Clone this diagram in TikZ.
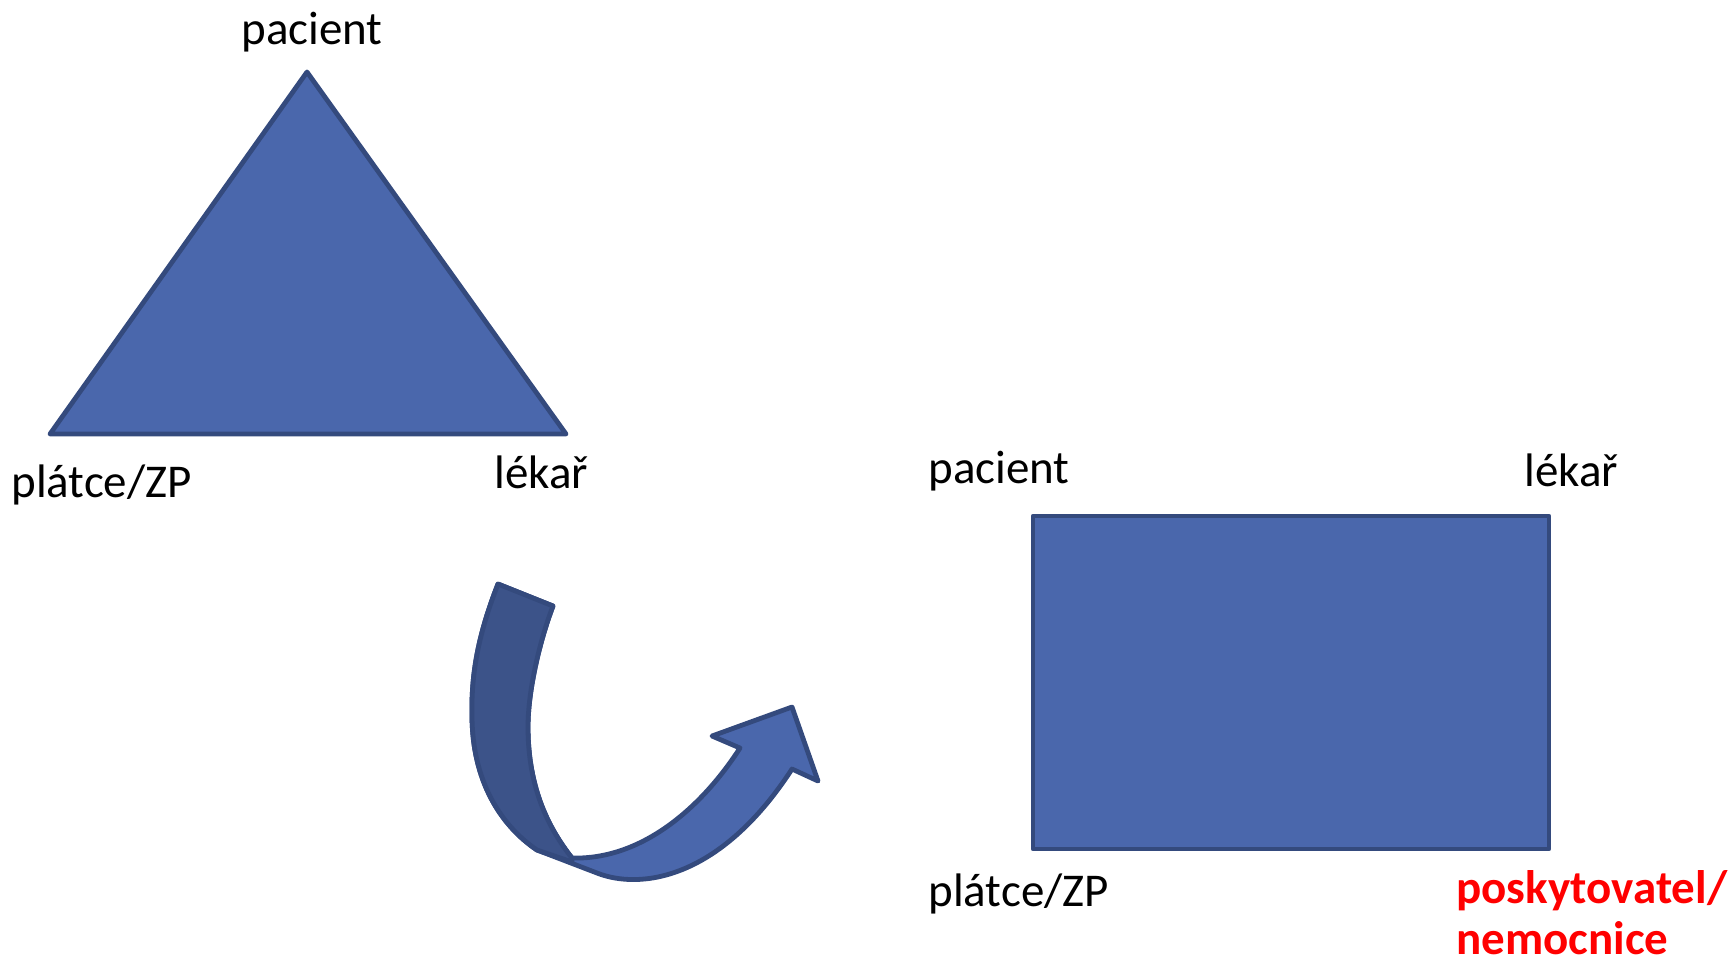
\documentclass[tikz,border=0pt]{standalone}
\usepackage{fontspec}
\setmainfont{Carlito}
\definecolor{shapefill}{RGB}{74,103,172}
\definecolor{shapeedge}{RGB}{52,74,125}
\definecolor{shapedark}{RGB}{60,83,137}

\begin{document}
\begin{tikzpicture}[
  x=0.5pt, y=-0.5pt,
  shp/.style={draw=shapeedge, fill=shapefill, line width=2.4pt, line join=round},
  fold/.style={shp, fill=shapedark},
  lbl/.style={anchor=base west, inner sep=0pt, font=\fontsize{23.5}{28}\selectfont},
  hot/.style={lbl, text=red, font=\fontsize{23.5}{28}\selectfont\bfseries},
]
  \path[use as bounding box] (0,0) rectangle (1734,965);

  % old model: three parties
  \coordinate (tpac) at (307,72);
  \coordinate (tzp)  at (50,434);
  \coordinate (tlek) at (566,434);
  \draw[shp] (tpac) -- (tlek) -- (tzp) -- cycle;
  \node[lbl] (pac1) at (241,44)  {pacient};
  \node[lbl] (zp1)  at (11,497)  {plátce/ZP};
  \node[lbl] (lek1) at (494,488) {lékař};

  % new model: four parties
  \coordinate (rnw) at (1033,516);
  \coordinate (rse) at (1549,849);
  \draw[shp] (rnw) rectangle (rse);
  \node[lbl] (pac2) at (928,483)  {pacient};
  \node[lbl] (lek2) at (1524,486) {lékař};
  \node[lbl] (zp2)  at (928,906)  {plátce/ZP};
  \node[hot] (pos2) at (1456,903) {poskytovatel/};
  \node[hot] (nem2) at (1456,954) {nemocnice};

  % curved arrow from one to the other
  \draw[shp] (498,584) .. controls (480,630) and (471,670) .. (472,715)
    .. controls (472,780) and (500,825) .. (537,850)
    -- (597,873) .. controls (640,890) and (720,880) .. (792,769)
    -- (818,781) -- (792,707) -- (712,736) -- (740,748)
    .. controls (700,810) and (640,860) .. (572,858)
    .. controls (550,830) and (528,790) .. (528,727)
    .. controls (528,690) and (540,640) .. (553,606) -- cycle;
  \draw[fold] (498,584) .. controls (480,630) and (471,670) .. (472,715)
    .. controls (472,780) and (500,825) .. (537,850)
    -- (572,862) -- (572,858)
    .. controls (550,830) and (528,790) .. (528,727)
    .. controls (528,690) and (540,640) .. (553,606) -- cycle;
\end{tikzpicture}
\end{document}
